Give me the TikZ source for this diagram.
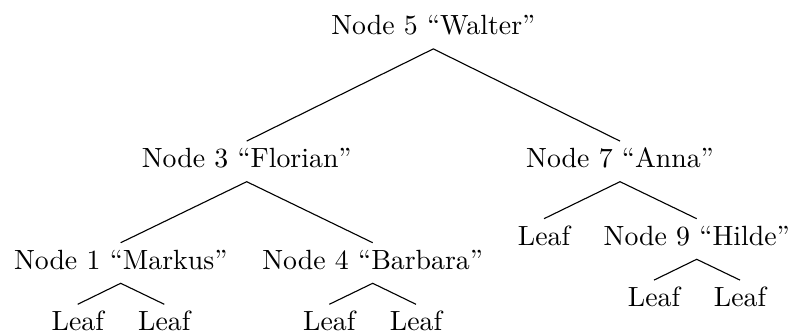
\documentclass[tikz,border=0pt]{standalone}
\begin{document}
\begin{tikzpicture}[x=0.3597pt,y=-0.3597pt,
  tn/.style={anchor=base, text height=7pt, text depth=2.4pt, inner sep=2.4pt},
  edge/.style={draw, line width=0.4pt}]
\useasboundingbox (0,0) rectangle (788,331);
\node[tn] (n5) at (433.3,35) {Node 5 ``Walter''};
\node[tn] (n3) at (246.7,167.8) {Node 3 ``Florian''};
\node[tn] (n7) at (620,167.8) {Node 7 ``Anna''};
\node[tn] (n1) at (120.7,269.4) {Node 1 ``Markus''};
\node[tn] (n4) at (372.7,269.4) {Node 4 ``Barbara''};
\node[tn] (l7) at (544,245.4) {Leaf};
\node[tn] (n9) at (696.7,245.4) {Node 9 ``Hilde''};
\node[tn] (l1a) at (77.7,331) {Leaf};
\node[tn] (l1b) at (164.3,331) {Leaf};
\node[tn] (l4a) at (329.3,331) {Leaf};
\node[tn] (l4b) at (416,331) {Leaf};
\node[tn] (l9a) at (654,306.8) {Leaf};
\node[tn] (l9b) at (740,306.8) {Leaf};
\draw[edge] (n3.north) -- (n5.south) -- (n7.north);
\draw[edge] (n1.north) -- (n3.south) -- (n4.north);
\draw[edge] (l7.north) -- (n7.south) -- (n9.north);
\draw[edge] (l1a.north) -- (n1.south) -- (l1b.north);
\draw[edge] (l4a.north) -- (n4.south) -- (l4b.north);
\draw[edge] (l9a.north) -- (n9.south) -- (l9b.north);
\end{tikzpicture}
\end{document}
